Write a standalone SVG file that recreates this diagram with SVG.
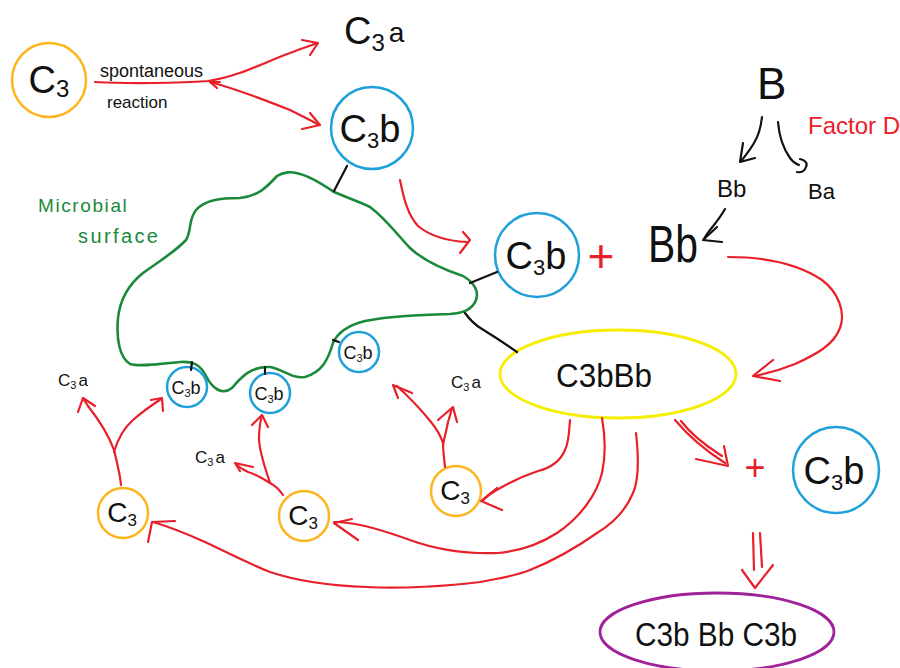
<svg xmlns="http://www.w3.org/2000/svg" width="900" height="668" viewBox="0 0 900 668">
  <style>
    .t { font-family: "Liberation Sans", "DejaVu Sans", sans-serif; fill: #111; }
    .red { stroke: #e8202a; fill: none; stroke-width: 2.2; stroke-linecap: round; stroke-linejoin: round; }
    .blk { stroke: #111; fill: none; stroke-width: 2.2; stroke-linecap: round; stroke-linejoin: round; }
    .c3 { stroke: #fdb51e; fill: none; stroke-width: 2.5; }
    .c3b { stroke: #1fa0d8; fill: none; stroke-width: 2.5; }
    .surf { stroke: #1a8a3a; fill: none; stroke-width: 2.6; stroke-linejoin: round; }
  </style>

  <!-- cell surface outline -->
  <g id="microbial-surface">
    <path class="surf" d="M277,176 C283,172 292,171 300,174 C312,177 325,186 334,192 C348,198 360,202 370,207 C385,218 395,232 410,248 C425,262 445,270 463,276 C475,283 479,292 476,300 C472,310 463,313 450,314 C420,315 390,316 365,321 C345,326 337,334 333,343 C328,360 322,372 305,377 C292,379 285,370 270,367 C252,366 242,376 232,388 C222,396 212,388 206,376 C200,364 192,361 180,362 C160,364 140,367 130,364 C120,358 116,340 118,318 C120,300 128,285 143,273 C158,262 175,252 186,240 C192,230 188,220 196,210 C205,200 220,198 240,198 C258,196 266,188 277,176 Z"/>
    <text class="t" x="38" y="212" font-size="19" letter-spacing="1.6" style="fill:#1a8a3a">Microbial</text>
    <text class="t" x="78" y="243" font-size="20" letter-spacing="2.4" style="fill:#1a8a3a">surface</text>
  </g>

  <!-- free C3 -->
  <g id="c3-top">
    <circle class="c3" cx="49" cy="80" r="37"/>
    <text class="t" x="49" y="93" font-size="38" text-anchor="middle">C<tspan font-size="24" dy="4">3</tspan></text>
  </g>

  <g id="label-spontaneous">
    <text class="t" x="100" y="77" font-size="18">spontaneous</text>
    <text class="t" x="107" y="108" font-size="17">reaction</text>
  </g>

  <g id="c3a-top">
    <text class="t" x="344" y="44" font-size="38">C<tspan font-size="24" dy="7">3</tspan><tspan font-size="28" dy="-9" dx="4">a</tspan></text>
  </g>

  <g id="c3b-top">
    <circle class="c3b" cx="372" cy="128" r="41"/>
    <text class="t" x="370" y="142" font-size="38" text-anchor="middle">C<tspan font-size="22" dy="6">3</tspan><tspan dy="-6">b</tspan></text>
  </g>

  <g id="c3b-mid">
    <circle class="c3b" cx="537" cy="255" r="42"/>
    <text class="t" x="536" y="269" font-size="38" text-anchor="middle">C<tspan font-size="22" dy="6">3</tspan><tspan dy="-6">b</tspan></text>
  </g>

  <g id="plus-mid">
    <text class="t" x="601" y="272" font-size="46" text-anchor="middle" style="fill:#e8202a">+</text>
  </g>

  <g id="bb-big">
    <text class="t" x="648" y="262" font-size="52" textLength="50" lengthAdjust="spacingAndGlyphs">Bb</text>
  </g>

  <g id="factor-b">
    <text class="t" x="757" y="99" font-size="44">B</text>
  </g>
  <g id="factor-d">
    <text class="t" x="808" y="134" font-size="24" style="fill:#e8202a">Factor D</text>
  </g>
  <g id="bb-small">
    <text class="t" x="717" y="197" font-size="24">Bb</text>
  </g>
  <g id="ba-small">
    <text class="t" x="808" y="199" font-size="22">Ba</text>
  </g>

  <g id="c3bbb">
    <ellipse cx="618" cy="374" rx="118" ry="44" fill="none" stroke="#f5ee00" stroke-width="2.8"/>
    <text class="t" x="604" y="387" font-size="34" text-anchor="middle" textLength="96" lengthAdjust="spacingAndGlyphs">C3bBb</text>
  </g>

  <g id="plus-right">
    <text class="t" x="755" y="480" font-size="36" text-anchor="middle" style="fill:#e8202a">+</text>
  </g>

  <g id="c3b-right">
    <circle class="c3b" cx="836" cy="470" r="43"/>
    <text class="t" x="834" y="484" font-size="38" text-anchor="middle">C<tspan font-size="22" dy="6">3</tspan><tspan dy="-6">b</tspan></text>
  </g>

  <g id="c3bbbc3b">
    <ellipse cx="717" cy="632" rx="117" ry="39" fill="none" stroke="#a0229b" stroke-width="2.8"/>
    <text class="t" x="716" y="646" font-size="34" text-anchor="middle" textLength="162" lengthAdjust="spacingAndGlyphs">C3b Bb C3b</text>
  </g>

  <!-- bound C3b on the surface -->
  <g id="c3b-bound-1">
    <circle class="c3b" cx="187" cy="387" r="20"/>
    <text class="t" x="186" y="394" font-size="18" text-anchor="middle">C<tspan font-size="11" dy="3">3</tspan><tspan dy="-3">b</tspan></text>
  </g>
  <g id="c3b-bound-2">
    <circle class="c3b" cx="270" cy="393" r="20"/>
    <text class="t" x="269" y="400" font-size="18" text-anchor="middle">C<tspan font-size="11" dy="3">3</tspan><tspan dy="-3">b</tspan></text>
  </g>
  <g id="c3b-bound-3">
    <circle class="c3b" cx="359" cy="352" r="20"/>
    <text class="t" x="358" y="359" font-size="18" text-anchor="middle">C<tspan font-size="11" dy="3">3</tspan><tspan dy="-3">b</tspan></text>
  </g>

  <!-- C3 in the amplification loop -->
  <g id="c3-left">
    <circle class="c3" cx="123" cy="513" r="25"/>
    <text class="t" x="122" y="522" font-size="28" text-anchor="middle">C<tspan font-size="17" dy="4">3</tspan></text>
  </g>
  <g id="c3-middle">
    <circle class="c3" cx="304" cy="516" r="25"/>
    <text class="t" x="303" y="525" font-size="28" text-anchor="middle">C<tspan font-size="17" dy="4">3</tspan></text>
  </g>
  <g id="c3-right">
    <circle class="c3" cx="456" cy="491" r="25"/>
    <text class="t" x="455" y="500" font-size="28" text-anchor="middle">C<tspan font-size="17" dy="4">3</tspan></text>
  </g>

  <g id="c3a-left">
    <text class="t" x="58" y="386" font-size="17">C<tspan font-size="11" dy="3">3</tspan><tspan dy="-3" dx="2">a</tspan></text>
  </g>
  <g id="c3a-middle">
    <text class="t" x="195" y="463" font-size="17">C<tspan font-size="11" dy="3">3</tspan><tspan dy="-3" dx="2">a</tspan></text>
  </g>
  <g id="c3a-right">
    <text class="t" x="451" y="388" font-size="17">C<tspan font-size="11" dy="3">3</tspan><tspan dy="-3" dx="2">a</tspan></text>
  </g>

  <g id="connectors">
    <!-- attachment bonds -->
    <path class="blk" d="M347,166 L334,191"/>
    <path class="blk" d="M470,283 L497,272"/>
    <path class="blk" d="M465,313 C470,320 475,325 482,329 C495,337 507,345 517,352"/>
    <path class="blk" d="M192,362 L191,370"/>
    <path class="blk" d="M265,367 L265,374"/>
    <path class="blk" d="M333,340 L339,342"/>

    <!-- spontaneous cleavage of C3 -->
    <path class="red" d="M95,82 C130,84 180,83 208,81 C240,76 265,62 290,53 C300,49 310,46 317,43"/>
    <path class="red" d="M302,40 L318,43 L310,55"/>
    <path class="red" d="M210,82 C240,90 270,102 290,110 C302,116 312,121 319,125"/>
    <path class="red" d="M310,113 L320,125 L302,129"/>
    <path class="red" d="M220,82 L210,82 L217,88"/>

    <!-- C3b lands on the surface -->
    <path class="red" d="M400,180 C404,200 408,215 418,226 C430,236 448,241 467,242"/>
    <path class="red" d="M463,232 L470,240 L460,253"/>

    <!-- factor B cleavage by factor D -->
    <path class="blk" d="M762,117 C761,126 759,135 754,143 C750,150 745,156 742,160"/>
    <path class="blk" d="M743,143 L740,162 L755,158"/>
    <path class="blk" d="M778,122 C779,135 783,148 790,158 C793,162 796,164 799,165"/>
    <path class="blk" d="M800,159 C805,160 808,163 806,167 C805,171 801,173 797,172"/>
    <path class="blk" d="M725,209 C720,218 714,225 710,230 C707,234 705,237 704,239"/>
    <path class="blk" d="M717,227 L703,240 L722,242"/>

    <!-- Bb joins C3b to form the convertase -->
    <path class="red" d="M728,257 C760,257 795,262 822,280 C838,292 846,312 840,328 C834,345 815,355 795,364 C780,370 765,374 754,376"/>
    <path class="red" d="M773,360 L753,376 L780,381"/>

    <!-- convertase acts on fresh C3 -->
    <path class="red" d="M570,420 C569,432 569,442 565,450 C560,462 550,468 538,471 C520,477 505,485 495,491 C488,495 484,499 482,501"/>
    <path class="red" d="M497,488 L481,501 L502,510"/>
    <path class="red" d="M602,418 C605,435 606,455 602,473 C597,494 580,518 557,533 C540,544 520,551 498,553 C470,554 440,551 410,540 C385,531 365,525 348,523 C342,522 337,522 334,522"/>
    <path class="red" d="M352,519 L334,523 L358,540"/>
    <path class="red" d="M636,433 C639,460 639,480 633,493 C626,510 612,524 597,533 C580,545 555,560 530,570 C512,577 500,578 480,582 C450,586 400,589 367,587 C335,586 300,582 270,572 C245,562 222,550 205,542 C185,533 170,527 153,522"/>
    <path class="red" d="M175,521 L152,522 L148,542"/>

    <!-- convertase binds one more C3b -->
    <path class="red" d="M675,420 C685,432 700,447 725,463"/>
    <path class="red" d="M681,421 C690,433 703,444 722,456"/>
    <path class="red" d="M724,446 L728,466 L696,459"/>
    <path class="red" d="M753,533 L754,570"/>
    <path class="red" d="M760,533 L762,567"/>
    <path class="red" d="M742,570 L755,588 L773,565"/>

    <!-- left C3 splits into C3a and bound C3b -->
    <path class="red" d="M121,485 C120,474 117,462 114,450 C109,436 99,420 88,406 C86,403 84,400 83,398"/>
    <path class="red" d="M78,412 L83,398 L95,406"/>
    <path class="red" d="M114,452 C118,438 124,428 133,420 C142,412 152,405 161,399"/>
    <path class="red" d="M151,400 L162,398 L163,411"/>

    <!-- middle C3 splits -->
    <path class="red" d="M283,495 C279,489 274,485 270,483 C266,470 260,455 259,440 C259,430 260,422 262,415"/>
    <path class="red" d="M252,425 L262,415 L268,427"/>
    <path class="red" d="M270,483 C262,478 255,474 248,472 C244,470 240,468 236,464"/>
    <path class="red" d="M253,467 L235,463 L240,471"/>

    <!-- right C3 splits -->
    <path class="red" d="M445,467 C444,458 443,450 443,443 C440,434 436,428 431,422 C423,412 410,398 397,386"/>
    <path class="red" d="M412,393 L393,385 L398,398"/>
    <path class="red" d="M443,445 C445,435 447,428 448,422 C450,416 451,412 452,408"/>
    <path class="red" d="M438,420 L453,407 L457,422"/>
  </g>
</svg>
